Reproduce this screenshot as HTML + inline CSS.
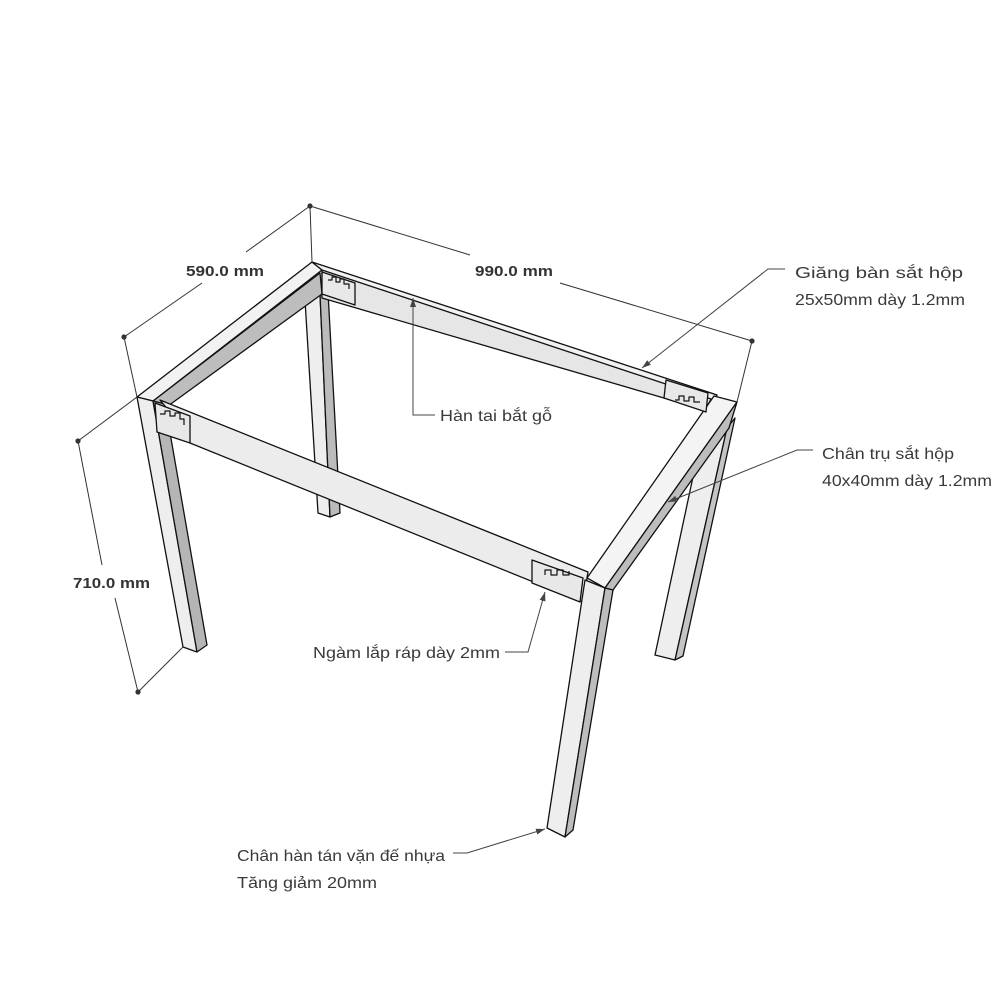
<!DOCTYPE html>
<html><head><meta charset="utf-8"><style>
html,body{margin:0;padding:0;background:#fff;}
svg{display:block}
text{font-family:"Liberation Sans","DejaVu Sans",sans-serif;fill:#3a3a3a;font-size:16px}
.b{font-weight:bold;font-size:14.5px;fill:#333}
</style></head><body>
<svg width="1000" height="1000" viewBox="0 0 1000 1000" xmlns="http://www.w3.org/2000/svg">
<defs><marker id="ar" markerWidth="10" markerHeight="8" refX="9" refY="4" orient="auto" markerUnits="userSpaceOnUse"><path d="M0,1 L9,4 L0,7 z" fill="#444"/></marker></defs>
<g stroke="#111" stroke-width="1.3" stroke-linejoin="round">
<!-- back-left leg -->
<polygon points="305,300 320,294 330,517 318,513" fill="#eee"/>
<polygon points="320,294 328,292 340,513 330,517" fill="#bbb"/>
<!-- right-back leg -->
<polygon points="703,430 727,428 675,660 655,655" fill="#eee"/>
<polygon points="727,428 735,418 683,656 675,660" fill="#c4c4c4"/>
<!-- back rail face -->
<polygon points="322,268 714,394 705,410 322,298" fill="#e6e6e6"/>
<!-- left rail gray inner face -->
<polygon points="153,401 320,273 322,294 168,406" fill="#bdbdbd"/>
<!-- left rail top -->
<polygon points="137,397 312,262 322,270 153,401" fill="#f2f2f2"/>
<!-- back rail top strip -->
<polygon points="312,262 717,395 714,400 322,270" fill="#f2f2f2"/>
<!-- left leg -->
<polygon points="137,397 153,401 197,652 183,647" fill="#eee"/>
<polygon points="153,401 165,404 207,645 197,652" fill="#b5b5b5"/>
<!-- front rail -->
<polygon points="160,400 588,572 583,602 190,443 165,406" fill="#ececec"/>
<!-- right rail white top -->
<polygon points="714,396 737,402 605,588 587,578" fill="#f4f4f4"/>
<!-- right rail gray strip -->
<polygon points="737,402 729,428 613,590 605,588" fill="#bdbdbd"/>
<!-- front leg -->
<polygon points="585,580 605,588 565,837 547,828" fill="#eee"/>
<polygon points="605,588 613,590 573,830 565,837" fill="#bdbdbd"/>
<!-- joint plates -->
<g fill="#e8e8e8">
<polygon points="322,272 355,283 355,305 322,294"/>
<polygon points="155,403 190,416 190,443 157,432"/>
<polygon points="666,380 708,393 706,412 664,398"/>
<polygon points="532,560 583,578 580,602 532,583"/>
</g>
<g fill="none" stroke-width="1.2">
<path d="M328,280 l4,0 0,-3 4,0 0,5 4,0 0,-3 4,0 0,5 5,0 0,5"/>
<path d="M160,414 l5,0 0,-3 5,0 0,5 5,0 0,-3 5,0 0,6 4,0 0,6"/>
<path d="M675,400 l4,0 0,-4 5,0 0,5 5,0 0,-4 5,0 0,5 6,0"/>
<path d="M545,575 l0,-5 6,0 0,5 6,0 0,-5 6,0 0,5 6,0 0,-4"/>
</g>
</g>
<!-- dimension lines -->
<g stroke="#333" stroke-width="1" fill="none">
<line x1="310" y1="206" x2="312" y2="262"/>
<line x1="124" y1="337" x2="137" y2="397"/>
<line x1="124" y1="337" x2="202" y2="283"/>
<line x1="246" y1="252" x2="310" y2="206"/>
<line x1="310" y1="206" x2="470" y2="255"/>
<line x1="560" y1="283" x2="752" y2="341"/>
<line x1="752" y1="341" x2="737" y2="402"/>
<line x1="78" y1="441" x2="137" y2="397"/>
<line x1="78" y1="441" x2="102" y2="565"/>
<line x1="115" y1="598" x2="138" y2="692"/>
<line x1="138" y1="692" x2="183" y2="647"/>
</g>
<g fill="#333">
<circle cx="310" cy="206" r="2.6"/><circle cx="124" cy="337" r="2.6"/><circle cx="752" cy="341" r="2.6"/>
<circle cx="78" cy="441" r="2.6"/><circle cx="138" cy="692" r="2.6"/>
</g>
<text class="b" x="186" y="276" textLength="78" lengthAdjust="spacingAndGlyphs">590.0 mm</text>
<text class="b" x="475" y="276" textLength="78" lengthAdjust="spacingAndGlyphs">990.0 mm</text>
<text class="b" x="73" y="588" textLength="77" lengthAdjust="spacingAndGlyphs">710.0 mm</text>
<!-- leaders -->
<g stroke="#444" stroke-width="1" fill="none">
<polyline points="785,269 768,269 642,368" marker-end="url(#ar)"/>
<polyline points="435,415 413,415 413,298" marker-end="url(#ar)"/>
<polyline points="813,450 797,450 668,502" marker-end="url(#ar)"/>
<polyline points="505,652 528,652 545,592" marker-end="url(#ar)"/>
<polyline points="453,853 467,853 545,829" marker-end="url(#ar)"/>
</g>
<text x="795" y="278" textLength="168" lengthAdjust="spacingAndGlyphs">Giăng bàn sắt hộp</text>
<text x="795" y="305" textLength="170" lengthAdjust="spacingAndGlyphs">25x50mm dày 1.2mm</text>
<text x="440" y="421" textLength="112" lengthAdjust="spacingAndGlyphs">Hàn tai bắt gỗ</text>
<text x="822" y="459" textLength="132" lengthAdjust="spacingAndGlyphs">Chân trụ sắt hộp</text>
<text x="822" y="486" textLength="170" lengthAdjust="spacingAndGlyphs">40x40mm dày 1.2mm</text>
<text x="313" y="658" textLength="187" lengthAdjust="spacingAndGlyphs">Ngàm lắp ráp dày 2mm</text>
<text x="237" y="861" textLength="208" lengthAdjust="spacingAndGlyphs">Chân hàn tán vặn đế nhựa</text>
<text x="237" y="888" textLength="140" lengthAdjust="spacingAndGlyphs">Tăng giảm 20mm</text>
</svg>
</body></html>
